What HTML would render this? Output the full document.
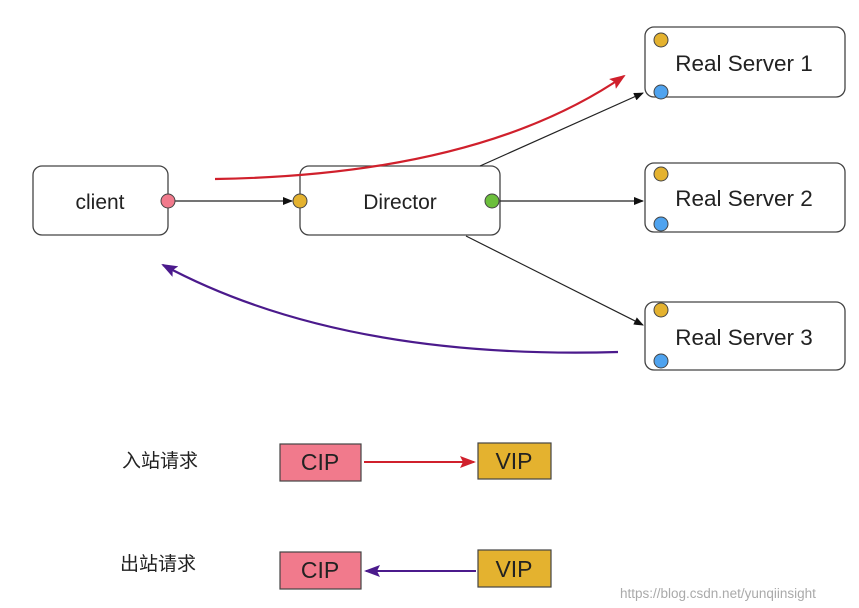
<!DOCTYPE html>
<html><head><style>body{margin:0;background:#fff}svg{display:block}</style></head><body>
<svg width="859" height="608" viewBox="0 0 859 608" xmlns="http://www.w3.org/2000/svg" font-family="Liberation Sans, Noto Sans CJK SC, sans-serif">
<defs>
<marker id="b" markerWidth="10" markerHeight="8" refX="9" refY="4" orient="auto" markerUnits="userSpaceOnUse"><path d="M0,0L10,4L0,8z" fill="#111"/></marker>
<marker id="r" markerWidth="16" markerHeight="12" refX="14" refY="6" orient="auto" markerUnits="userSpaceOnUse"><path d="M0,0L16,6L0,12L3,6z" fill="#d0202c"/></marker>
<marker id="p" markerWidth="16" markerHeight="12" refX="14" refY="6" orient="auto" markerUnits="userSpaceOnUse"><path d="M0,0L16,6L0,12L3,6z" fill="#4b1a8c"/></marker>
</defs>
<g fill="#fff" stroke="#444" stroke-width="1.3">
<rect x="33" y="166" width="135" height="69" rx="9"/>
<rect x="300" y="166" width="200" height="69" rx="9"/>
<rect x="645" y="27" width="200" height="70" rx="9"/>
<rect x="645" y="163" width="200" height="69" rx="9"/>
<rect x="645" y="302" width="200" height="68" rx="9"/>
</g>
<g stroke="#222" stroke-width="1.2" fill="none">
<line x1="175" y1="201" x2="292" y2="201" marker-end="url(#b)"/>
<line x1="480" y1="166" x2="643" y2="93" marker-end="url(#b)"/>
<line x1="500" y1="201" x2="643" y2="201" marker-end="url(#b)"/>
<line x1="466" y1="236" x2="643" y2="325" marker-end="url(#b)"/>
</g>
<path d="M215,179 Q480,175 624,76" stroke="#d0202c" stroke-width="2.2" fill="none" marker-end="url(#r)"/>
<path d="M618,352 Q340,360 163,265" stroke="#4b1a8c" stroke-width="2.2" fill="none" marker-end="url(#p)"/>
<g stroke="#444" stroke-width="1">
<circle cx="168" cy="201" r="7" fill="#f17a8c"/>
<circle cx="300" cy="201" r="7" fill="#e4b22f"/>
<circle cx="492" cy="201" r="7" fill="#6cbf3c"/>
<circle cx="661" cy="40" r="7" fill="#e4b22f"/><circle cx="661" cy="92" r="7" fill="#4fa3ef"/>
<circle cx="661" cy="174" r="7" fill="#e4b22f"/><circle cx="661" cy="224" r="7" fill="#4fa3ef"/>
<circle cx="661" cy="310" r="7" fill="#e4b22f"/><circle cx="661" cy="361" r="7" fill="#4fa3ef"/>
</g>
<g font-size="21" fill="#222" text-anchor="middle">
<text x="100" y="209">client</text>
<text x="400" y="209">Director</text>
</g>
<g font-size="22.5" fill="#222" text-anchor="middle">
<text x="744" y="71">Real Server 1</text>
<text x="744" y="206">Real Server 2</text>
<text x="744" y="345">Real Server 3</text>
</g>
<g stroke="#444" stroke-width="1.2">
<rect x="280" y="444" width="81" height="37" fill="#f17a8c"/>
<rect x="478" y="443" width="73" height="36" fill="#e4b22f"/>
<rect x="280" y="552" width="81" height="37" fill="#f17a8c"/>
<rect x="478" y="550" width="73" height="37" fill="#e4b22f"/>
</g>
<line x1="364" y1="462" x2="474" y2="462" stroke="#d0202c" stroke-width="2" marker-end="url(#r)"/>
<line x1="476" y1="571" x2="366" y2="571" stroke="#4b1a8c" stroke-width="2" marker-end="url(#p)"/>
<g font-size="23" fill="#222" text-anchor="middle">
<text x="320" y="470">CIP</text><text x="514" y="469">VIP</text>
<text x="320" y="578">CIP</text><text x="514" y="577">VIP</text>
</g>
<g font-size="19" fill="#222">
<text x="122" y="467">入站请求</text>
<text x="120" y="570">出站请求</text>
</g>
<text x="620" y="598" font-size="13.5" fill="#aaa">https://blog.csdn.net/yunqiinsight</text>
</svg>
</body></html>
